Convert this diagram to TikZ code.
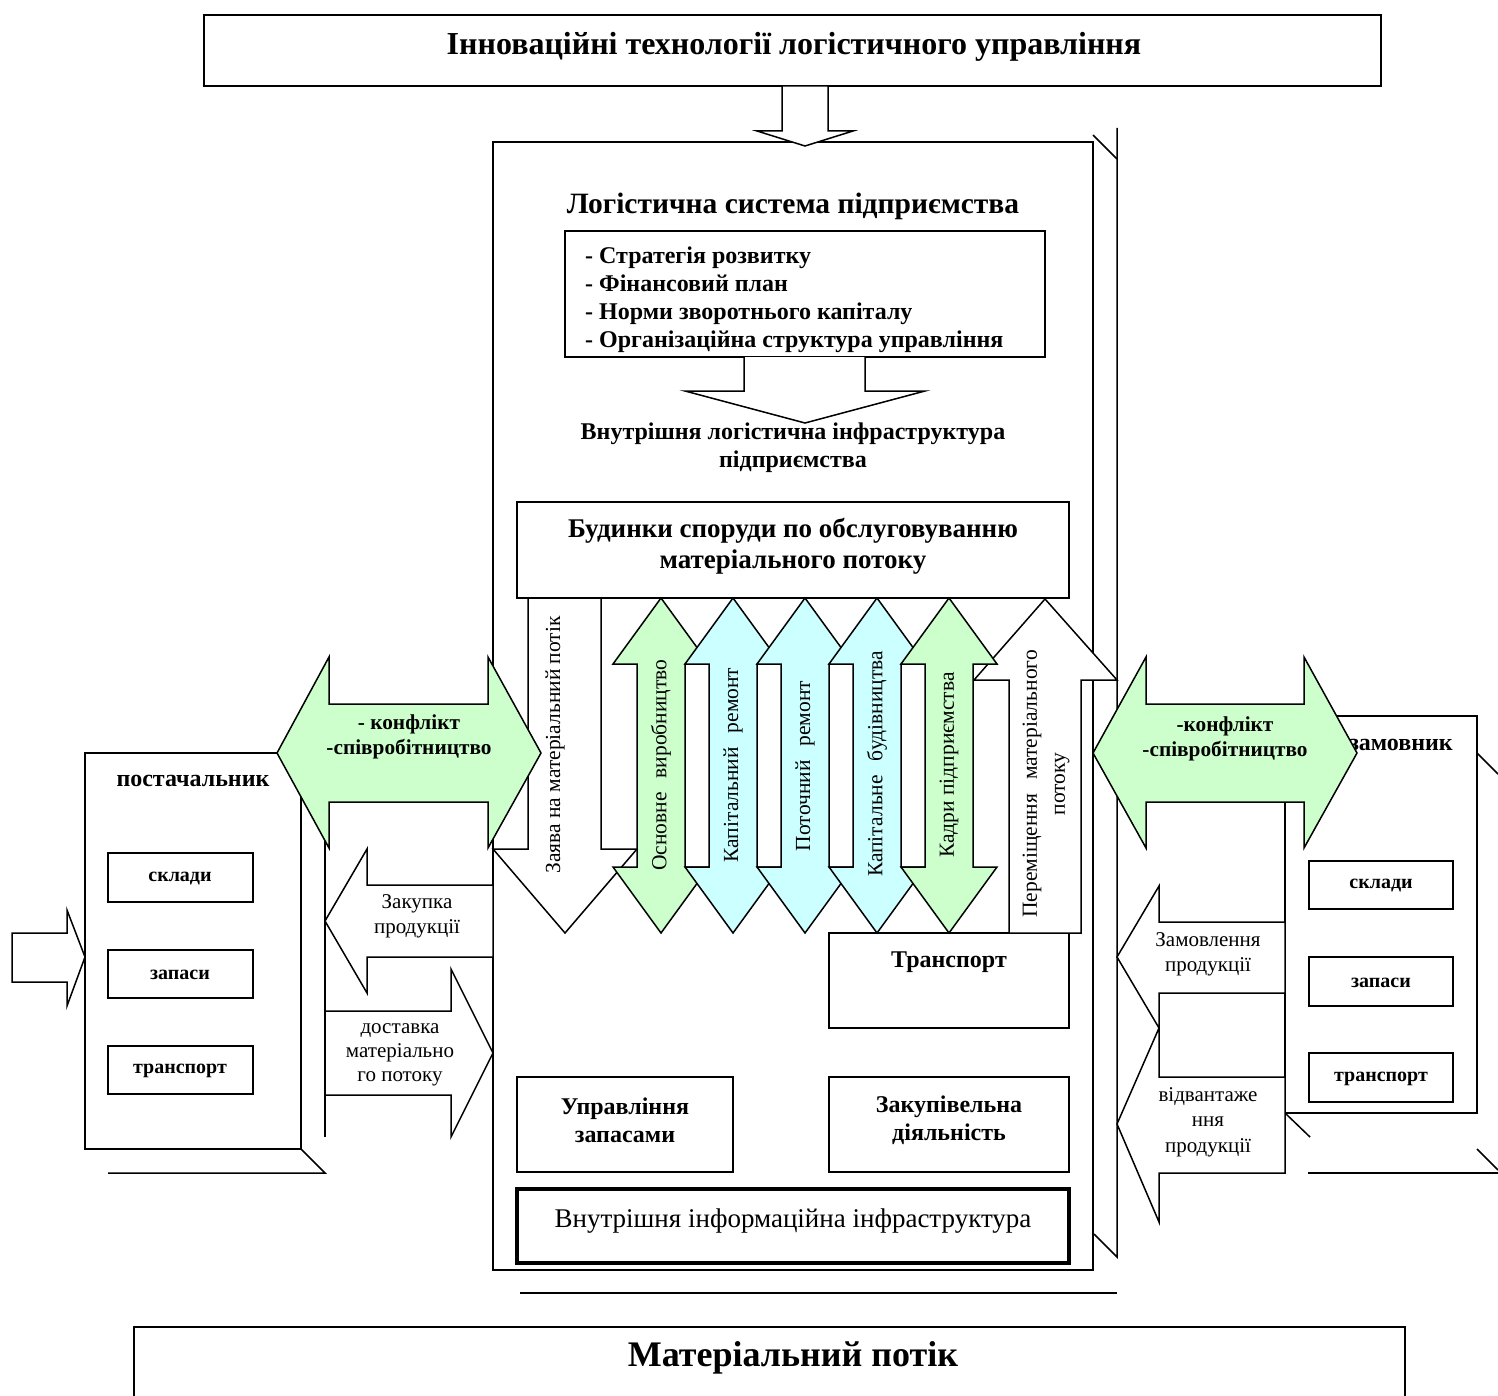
\documentclass[tikz,border=0pt]{standalone}
\usepackage{fontspec}
\setmainfont{Liberation Serif}
\newcommand\myfs[2]{\fontsize{#1}{#2}\selectfont}
\definecolor{lgreen}{HTML}{CCFFCC}
\definecolor{lcyan}{HTML}{CCFFFF}
\tikzset{
  ln/.style={line width=1.5pt, line join=miter},
  bx/.style={draw, line width=1.5pt, fill=white},
  txt/.style={inner sep=0pt, align=center},
  bigb/.style={txt, font=\myfs{29.5}{34}\bfseries},
  midb/.style={txt, font=\myfs{24}{28}\bfseries},
  smlb/.style={txt, font=\myfs{20}{25}\bfseries},
  konf/.style={txt, font=\myfs{21.3}{25}\bfseries},
  reg/.style={txt, font=\myfs{21}{25}},
  rot/.style={txt, font=\myfs{21.5}{28}, rotate=90},
}
\newcommand\vdarr[2]{%
 \filldraw[ln,fill=#2] (#1,598) -- ({#1+48},664) -- ({#1+24},664) -- ({#1+24},867) -- ({#1+48},867) -- (#1,933) -- ({#1-48},867) -- ({#1-24},867) -- ({#1-24},664) -- ({#1-48},664) -- cycle;}
\begin{document}
\begin{tikzpicture}[x=1pt,y=-1pt]
\useasboundingbox (0,0) rectangle (1498,1396);
% title
\draw[bx] (204,15) rectangle (1381,86);
\node[bigb, font=\myfs{32}{36}\bfseries] (title) at (794,47) {Інноваційні технології логістичного управління};
% central box shadow
\draw[ln] (1117,128) -- (1117,1257) -- (1094,1234);
\draw[ln] (1093,135) -- (1117,159);
\draw[ln] (520,1293) -- (1117,1293);
% central box
\draw[bx] (493,142) rectangle (1093,1270);
% arrow from title
\filldraw[ln,fill=white] (782,86) -- (782,131) -- (757,131) -- (805,146) -- (853,131) -- (828,131) -- (828,86) -- cycle;
\node[bigb] (ls) at (793,206) {Логістична система підприємства};
\draw[bx] (565,231) rectangle (1045,357);
\node[midb, align=left, anchor=west] (list) at (585,300) {- Стратегія розвитку\\- Фінансовий план\\- Норми зворотнього капіталу\\- Організаційна структура управління};
\filldraw[ln,fill=white] (744,357) -- (744,391) -- (685,391) -- (805,423) -- (925,391) -- (865,391) -- (865,357);
\node[midb] (vli) at (793,448) {Внутрішня логістична інфраструктура\\підприємства};
\draw[bx] (517,502) rectangle (1069,598);
\node[midb, font=\myfs{27}{31}\bfseries] (bud) at (793,546) {Будинки споруди по обслуговуванню\\матеріального потоку};
% transport box
\draw[bx] (829,933) rectangle (1069,1028);
\node[midb] (tr) at (949,962) {Транспорт};
% Zayava arrow
\filldraw[ln,fill=white] (528,598) -- (601,598) -- (601,849) -- (637,849) -- (565,933) -- (493,849) -- (528,849) -- cycle;
\node[rot] (zay) at (555,745) {Заява на матеріальний потік};
% Peremishchennya arrow
\filldraw[ln,fill=white] (1045,599) -- (1117,680) -- (1081,680) -- (1081,933) -- (1009,933) -- (1009,680) -- (974,680) -- cycle;
\node[rot] (per) at (1046,784) {Переміщення\hspace{0.4em} матеріального\\потоку};
% vertical double arrows
\vdarr{661}{lgreen}
\node[rot] (osn) at (661,765) {Основне\hspace{0.4em} виробництво};
\vdarr{733}{lcyan}
\node[rot] (kr) at (733,765) {Капітальний\hspace{0.4em} ремонт};
\vdarr{805}{lcyan}
\node[rot] (pr) at (805,766) {Поточний\hspace{0.4em} ремонт};
\vdarr{877}{lcyan}
\node[rot] (kb) at (877,764) {Капітальне\hspace{0.4em} будівництва};
\vdarr{949}{lgreen}
\node[rot] (kp) at (949,765) {Кадри підприємства};
% bottom boxes
\draw[bx] (517,1077) rectangle (733,1172);
\node[midb] (uz) at (625,1120) {Управління\\запасами};
\draw[bx] (829,1077) rectangle (1069,1172);
\node[midb] (zd) at (949,1120) {Закупівельна\\діяльність};
\draw[bx, line width=4.5pt] (517,1189) rectangle (1069,1263);
\node[txt, font=\myfs{27}{32}] (vii) at (793,1221) {Внутрішня інформаційна інфраструктура};
% supplier
\draw[ln] (325,800) -- (325,1137);
\draw[ln] (301,1149) -- (325,1173) -- (108,1173);
\draw[bx] (85,753) rectangle (301,1149);
\node[midb] (post) at (193,781) {постачальник};
\draw[bx] (108,853) rectangle (253,902);
\node[smlb] (s1) at (180,879) {склади};
\draw[bx] (108,950) rectangle (253,998);
\node[smlb] (s2) at (180,975) {запаси};
\draw[bx] (108,1046) rectangle (253,1094);
\node[smlb] (s3) at (180,1071) {транспорт};
\filldraw[ln,fill=white] (12,933) -- (67,933) -- (67,910) -- (85,957) -- (67,1006) -- (67,982) -- (12,982) -- cycle;
\filldraw[ln,fill=white] (325,921) -- (367,849) -- (367,885) -- (493,885) -- (493,957) -- (367,957) -- (367,993) -- cycle;
\node[reg] (zak) at (417,916) {Закупка\\продукції};
\filldraw[ln,fill=white] (325,1011) -- (451,1011) -- (451,969) -- (493,1053) -- (451,1137) -- (451,1095) -- (325,1095) -- cycle;
\node[reg, font=\myfs{21}{24}] (dost) at (400,1055) {доставка\\матеріально\\го потоку};
% left green double arrow
\filldraw[ln,fill=lgreen] (277,753) -- (329,657) -- (329,704) -- (488,704) -- (488,657) -- (541,753) -- (488,848) -- (488,802) -- (329,802) -- (329,848) -- cycle;
\node[konf] (k1) at (409,737) {- конфлікт\\-співробітництво};
% customer
\draw[ln] (1477,753) -- (1498,774);
\draw[ln] (1477,1149) -- (1498,1170);
\draw[ln] (1308,1173) -- (1498,1173);
\draw[ln] (1285,1113) -- (1310,1137);
\draw[bx] (1285,716) rectangle (1477,1113);
\node[midb, anchor=east] (zam) at (1453,745) {замовник};
\draw[bx] (1309,861) rectangle (1453,909);
\node[smlb] (c1) at (1381,886) {склади};
\draw[bx] (1309,957) rectangle (1453,1006);
\node[smlb] (c2) at (1381,983) {запаси};
\draw[bx] (1309,1053) rectangle (1453,1102);
\node[smlb] (c3) at (1381,1079) {транспорт};
\filldraw[ln,fill=white] (1117,957) -- (1159,886) -- (1159,922) -- (1285,922) -- (1285,993) -- (1159,993) -- (1159,1028) -- cycle;
\node[reg] (zamov) at (1208,954) {Замовлення\\продукції};
\filldraw[ln,fill=white] (1117,1124) -- (1159,1028) -- (1159,1077) -- (1285,1077) -- (1285,1173) -- (1159,1173) -- (1159,1222) -- cycle;
\node[reg, font=\myfs{21}{25.5}] (vidv) at (1208,1122) {відвантаже\\ння\\продукції};
% right green double arrow
\filldraw[ln,fill=lgreen] (1093,753) -- (1146,657) -- (1146,704) -- (1304,704) -- (1304,657) -- (1357,753) -- (1304,848) -- (1304,802) -- (1146,802) -- (1146,848) -- cycle;
\node[konf] (k2) at (1225,739) {-конфлікт\\-співробітництво};
% bottom box
\draw[ln] (134,1396) -- (134,1327) -- (1405,1327) -- (1405,1396);
\node[bigb, font=\myfs{36}{40}\bfseries] (mp) at (793,1358) {Матеріальний потік};
\end{tikzpicture}
\end{document}
